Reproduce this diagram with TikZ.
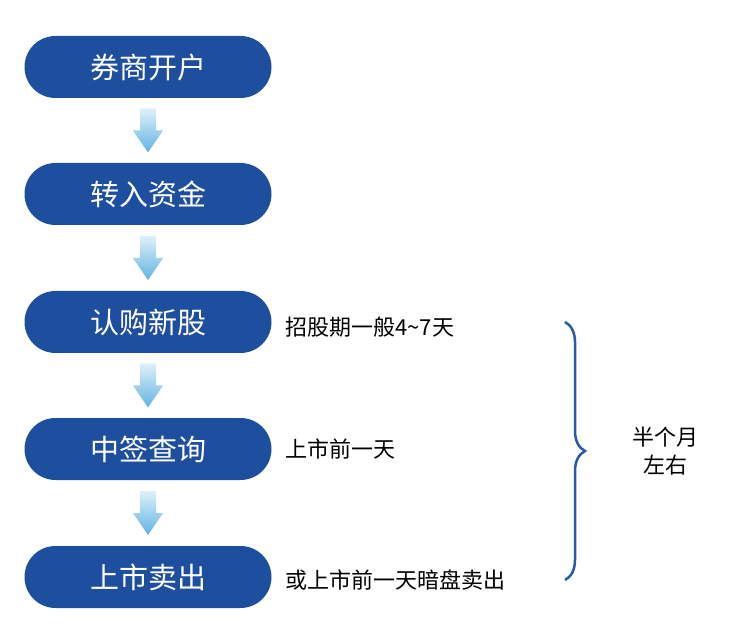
\documentclass[tikz,border=0pt]{standalone}
\usepackage{fontspec}
\setmainfont{Noto Sans CJK SC}
\usetikzlibrary{positioning,calc,decorations.pathreplacing}
\definecolor{pillblu}{RGB}{30,78,158}
\definecolor{arrblu}{RGB}{95,180,225}
\definecolor{braceblu}{RGB}{40,90,170}

\newcommand{\downarrowbetween}[2]{%
	\coordinate (m) at ($(#1)!0.5!(#2)$);
	\shade [top color=white!80!arrblu, bottom color=arrblu]
		($(m)+(-8,-22)$) -- ($(m)+(8,-22)$) -- ($(m)+(8,0)$) -- ($(m)+(15,0)$)
		-- ($(m)+(0,22)$) -- ($(m)+(-15,0)$) -- ($(m)+(-8,0)$) -- cycle;
}

\begin{document}
\begin{tikzpicture}[x=1pt,y=1pt,yscale=-1,
	stage/.style={rectangle, rounded corners=31pt, fill=pillblu, text=white, minimum width=247pt, minimum height=62pt, font=\fontsize{29}{32}\selectfont},
	note/.style={anchor=west, font=\fontsize{22}{26}\selectfont}]
	\useasboundingbox (0,0) rectangle (750,644);

	\node [stage] (open) at (148,67) {券商开户};
	\node [stage] (fund) at (148,194) {转入资金};
	\node [stage] (buy) at (148,322) {认购新股};
	\node [stage] (lot) at (148,449) {中签查询};
	\node [stage] (sell) at (148,577) {上市卖出};

	\downarrowbetween{open}{fund}
	\downarrowbetween{fund}{buy}
	\downarrowbetween{buy}{lot}
	\downarrowbetween{lot}{sell}

	\node [note] (n1) at (282,327) {招股期一般4\textasciitilde7天};
	\node [note] (n2) at (282,449) {上市前一天};
	\node [note] (n3) at (282,580) {或上市前一天暗盘卖出};

	\coordinate (btop) at (565,322);
	\coordinate (bbot) at (565,580);
	\draw [braceblu, line width=2.5pt, decorate, decoration={brace, amplitude=20pt}] (btop) -- (bbot);
	\node [align=center, font=\fontsize{22}{28}\selectfont] (span) at (665,451) {半个月\\左右};
\end{tikzpicture}
\end{document}
